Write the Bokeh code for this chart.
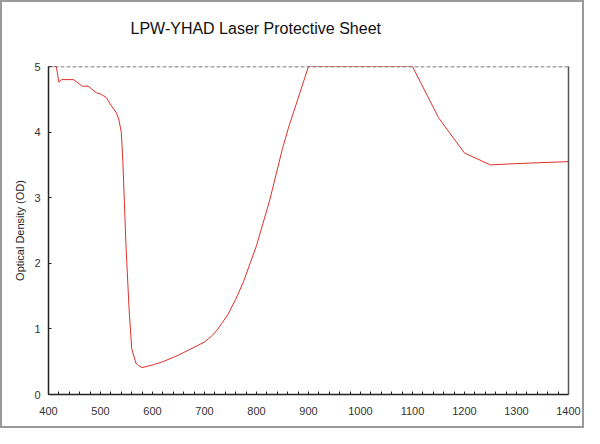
from bokeh.plotting import figure
from bokeh.models import Range1d, LinearAxis, Span, FixedTicker, Title
from bokeh.embed import file_html
from bokeh.resources import INLINE

wavelength = [400, 415, 420, 425, 448, 465, 476, 492, 500, 511, 521, 530, 535, 540, 543,
              549, 555, 560, 568, 573, 580, 600, 620, 650, 680, 700, 715, 726, 745, 760,
              775, 800, 825, 850, 862, 900, 1000, 1100, 1150, 1200, 1250, 1300, 1400]
od = [5.0, 5.0, 4.76, 4.8, 4.8, 4.7, 4.7, 4.6, 4.58, 4.53, 4.4, 4.3, 4.2, 4.0, 3.55,
      2.27, 1.3, 0.7, 0.48, 0.44, 0.41, 0.45, 0.5, 0.6, 0.72, 0.8, 0.9, 1.0, 1.22, 1.45,
      1.72, 2.27, 2.95, 3.75, 4.08, 5.0, 5.0, 5.0, 4.22, 3.68, 3.5, 3.52, 3.55]

x_ticks = [400, 500, 600, 700, 800, 900, 1000, 1100, 1200, 1300, 1400]
y_ticks = [0, 1, 2, 3, 4, 5]
title_text = "LPW-YHAD Laser Protective Sheet"

FONT = "Liberation Sans"

p = figure(frame_width=520, frame_height=328, output_backend="svg", toolbar_location=None,
           x_range=Range1d(400, 1400), y_range=Range1d(0, 5),
           min_border_left=46, min_border_right=14, min_border_top=64, min_border_bottom=32,
           x_axis_location=None, y_axis_location=None,
           styles={"border": "2px solid #9a9a9a"})
p.outline_line_color = None
p.grid.visible = False
p.background_fill_color = "white"
p.border_fill_color = "white"

# invisible spacer panel between the frame and the title
spacer = Title(text=" ", text_font=FONT, text_font_size="22px", standoff=0,
               text_color="white")
p.add_layout(spacer, "above")
t = Title(text=title_text, align="left", offset=82,
          text_font=FONT, text_font_size="16px", text_font_style="normal",
          text_color="#111111", standoff=6)
p.add_layout(t, "above")

xa = LinearAxis(ticker=FixedTicker(ticks=x_ticks,
                                   minor_ticks=list(range(400, 1401, 20))))
xa.axis_line_color = "#222222"
xa.axis_line_width = 1.5
xa.major_tick_in = 0
xa.major_tick_out = 7
xa.minor_tick_in = 3
xa.minor_tick_out = 0
xa.major_tick_line_color = None
xa.minor_tick_line_color = "#222222"
xa.major_label_text_font = FONT
xa.major_label_text_font_size = "11px"
xa.major_label_text_color = "#333333"
xa.major_label_standoff = 5
p.add_layout(xa, "below")

ya = LinearAxis(ticker=FixedTicker(ticks=y_ticks), axis_label="Optical Density (OD)")
ya.axis_line_color = "#222222"
ya.axis_line_width = 1.5
ya.major_tick_in = 3
ya.major_tick_out = 0
ya.minor_tick_line_color = None
ya.major_tick_line_color = "#222222"
ya.major_label_text_font = FONT
ya.major_label_text_font_size = "11px"
ya.major_label_text_color = "#333333"
ya.major_label_standoff = 8
ya.axis_label_text_font = FONT
ya.axis_label_text_font_size = "11px"
ya.axis_label_text_font_style = "normal"
ya.axis_label_text_color = "#222222"
ya.axis_label_standoff = 5
p.add_layout(ya, "left")

ra = LinearAxis(ticker=FixedTicker(ticks=[]))
ra.axis_line_color = "#555555"
ra.axis_line_width = 1.5
ra.major_tick_line_color = None
ra.minor_tick_line_color = None
ra.major_label_text_font_size = "0px"
p.add_layout(ra, "right")

top = Span(location=5, dimension="width", line_color="#555555", line_width=1.5,
           line_dash="4 2")
p.add_layout(top)

p.line(wavelength, od, line_color="#e0302a", line_width=1)

open("out.html", "w").write(file_html(p, INLINE))
